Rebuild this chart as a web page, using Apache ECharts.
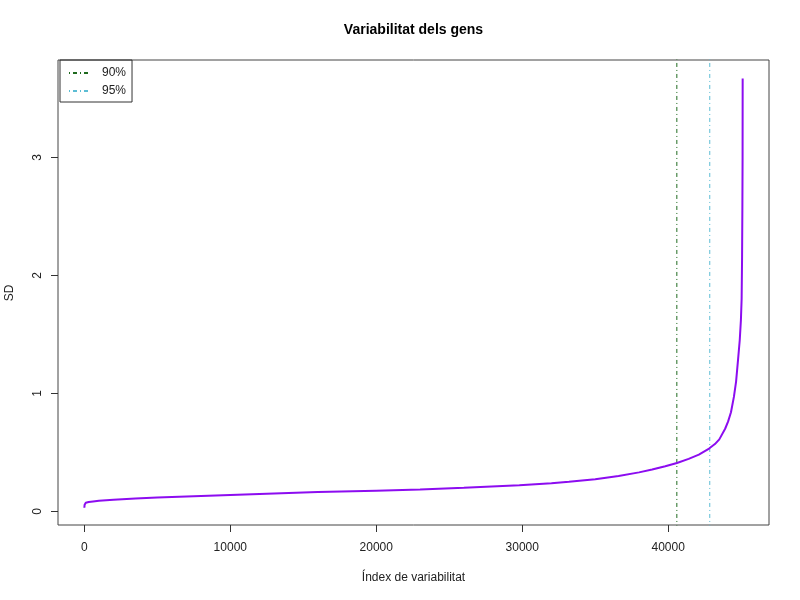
<!DOCTYPE html>
<html>
<head>
<meta charset="utf-8">
<script src="https://cdn.jsdelivr.net/npm/echarts@6/dist/echarts.min.js"></script>
<style>html,body{margin:0;padding:0;background:#fff}#c{width:800px;height:600px}</style>
</head>
<body>
<div id="c"></div>
<script>
var geneIndex = [1, 20, 100, 300, 600, 1000, 2000, 3500, 5000, 7500, 10000, 13000, 16000, 20000, 23000, 26000, 29800, 32000, 33200, 35000, 36600, 38000, 38900, 39800, 40600, 41400, 42100, 42800, 43200, 43500, 43900, 44100, 44300, 44500, 44650, 44780, 44900, 44980, 45030, 45060, 45080, 45095, 45101];
var sdValues = [0.03, 0.055, 0.072, 0.079, 0.084, 0.09, 0.099, 0.109, 0.117, 0.127, 0.138, 0.151, 0.163, 0.175, 0.184, 0.200, 0.222, 0.238, 0.250, 0.272, 0.300, 0.330, 0.354, 0.382, 0.410, 0.445, 0.480, 0.532, 0.57, 0.61, 0.70, 0.76, 0.84, 0.97, 1.10, 1.28, 1.45, 1.62, 1.80, 2.15, 2.55, 3.0, 3.67];
var cutNames = ['90%', '95%'];
var cutPositions = [40591, 42846];
var xTicks = [0, 10000, 20000, 30000, 40000];
var yTicks = [0, 1, 2, 3];
var xRange = [-1803, 46905];
var yRange = [-0.116, 3.826];

var FONT = '"Liberation Sans", Arial, sans-serif';
var lineData = geneIndex.map(function (v, i) { return [v, sdValues[i]]; });
var cutColors = ['#1f6a1f', '#5cbdd4'];

var series = [{
  name: 'SD',
  type: 'line',
  data: lineData,
  showSymbol: false,
  smooth: false,
  lineStyle: { color: '#8c0cf0', width: 2 },
  itemStyle: { color: '#8c0cf0' },
  animation: false,
  z: 3
}];
cutNames.forEach(function (n, i) {
  series.push({
    name: n,
    type: 'line',
    data: [[cutPositions[i], yRange[0] - 1], [cutPositions[i], yRange[1] + 1]],
    showSymbol: false,
    symbol: 'none',
    clip: true,
    lineStyle: { color: cutColors[i], width: 1, type: [1, 3, 4, 3] },
    itemStyle: { color: cutColors[i] },
    animation: false,
    z: 2
  });
});

var chart = echarts.init(document.getElementById('c'), null, { renderer: 'canvas' });
chart.setOption({
  backgroundColor: '#ffffff',
  animation: false,
  textStyle: { fontFamily: FONT },
  grid: { left: 58, right: 31, top: 60, bottom: 75, show: true, borderColor: '#444', borderWidth: 1, backgroundColor: 'transparent' },
  xAxis: {
    type: 'value', min: xRange[0], max: xRange[1],
    splitLine: { show: false },
    axisLine: { show: false, onZero: false },
    axisTick: { show: true, inside: false, length: 7, customValues: xTicks, lineStyle: { color: '#333' } },
    axisLabel: { customValues: xTicks, margin: 17, color: '#222', fontSize: 12, fontFamily: FONT,
      formatter: function (v) { return String(v); } }
  },
  yAxis: {
    type: 'value', min: yRange[0], max: yRange[1],
    splitLine: { show: false },
    axisLine: { show: false, onZero: false },
    axisTick: { show: true, inside: false, length: 7, customValues: yTicks, lineStyle: { color: '#333' } },
    axisLabel: { customValues: yTicks, margin: 14, rotate: 90, color: '#222', fontSize: 12, fontFamily: FONT,
      formatter: function (v) { return String(v); } }
  },
  legend: {
    data: cutNames,
    orient: 'vertical',
    left: 60, top: 60,
    borderColor: '#333', borderWidth: 1, borderRadius: 0,
    padding: [7, 6, 5, 8],
    itemWidth: 20, itemHeight: 8, itemGap: 6,
    itemStyle: { opacity: 0 },
    textStyle: { fontSize: 12, color: '#222', fontFamily: FONT, padding: [0, 0, 0, 8] }
  },
  graphic: [
    { type: 'text', x: 413.5, y: 30, style: { text: 'Variabilitat dels gens', font: 'bold 14px ' + FONT, fill: '#000', textAlign: 'center', textVerticalAlign: 'middle' } },
    { type: 'text', x: 413.5, y: 578, style: { text: 'Índex de variabilitat', font: '12px ' + FONT, fill: '#222', textAlign: 'center', textVerticalAlign: 'middle' } },
    { type: 'text', x: 10, y: 293, rotation: Math.PI / 2, style: { text: 'SD', font: '12px ' + FONT, fill: '#222', textAlign: 'center', textVerticalAlign: 'middle' } }
  ],
  series: series
});
</script>
</body>
</html>
